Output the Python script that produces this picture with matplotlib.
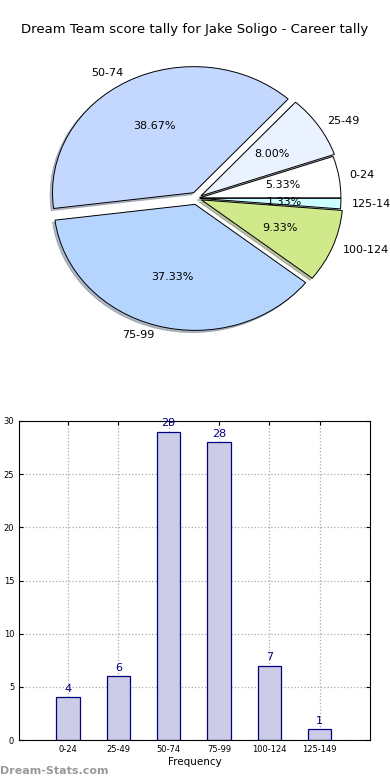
import matplotlib
matplotlib.use("Agg")
import matplotlib.pyplot as plt

# score bands and how many times each came up
bands = ["0-24", "25-49", "50-74", "75-99", "100-124", "125-149"]
counts = [4, 6, 29, 28, 7, 1]
pie_colors = ["#ffffff", "#eaf1ff", "#c4d8ff", "#b5d5ff", "#cfe98b", "#ccffff"]
explode = [0.02, 0.035, 0.05, 0.05, 0.035, 0.02]

fig = plt.figure(figsize=(3.9, 7.8), dpi=100)

fig.text(0.5, 1 - 30 / 780, "Dream Team score tally for Jake Soligo - Career tally",
         ha="center", va="center", fontsize=9.5)

#%% pie
ax1 = fig.add_axes([0.0525, 0.5438, 0.905, 0.404])
wedges, texts, autotexts = ax1.pie(counts, labels=bands, colors=pie_colors, explode=explode,
                                   autopct="%1.2f%%", startangle=0, labeldistance=1.075,
                                   shadow={"ox": -0.012, "oy": -0.012, "shade": 0.45},
                                   wedgeprops={"edgecolor": "black", "linewidth": 0.7},
                                   textprops={"fontsize": 8})
ax1.set_aspect("auto")
ax1.set_xlim(-1.25, 1.25)
ax1.set_ylim(-1.25, 1.25)

#%% bars
ax2 = fig.add_axes([19 / 390, 40 / 780, 351 / 390, 319 / 780])
x = list(range(len(bands)))
ax2.bar(x, counts, width=0.46, color="#ccccE6", edgecolor="#000080", linewidth=0.9, zorder=2)
for i, c in zip(x, counts):
    ax2.text(i, c + 0.3, str(c), ha="center", va="bottom", color="#000080", fontsize=8)
ax2.set_xlim(-0.975, 6.0)
ax2.set_ylim(0, 30)
ax2.set_xticks(x)
ax2.set_xticklabels(bands)
ax2.set_yticks([0, 5, 10, 15, 20, 25, 30])
ax2.tick_params(labelsize=6, direction="in", top=True, right=True, length=3)
ax2.grid(True, linestyle=":", color="#aaaaaa", linewidth=0.9, zorder=0)
ax2.set_xlabel("Frequency", fontsize=7.5, labelpad=2)
ax2.set_ylabel("Score Interval", fontsize=7.5, labelpad=9)

fig.text(0.0, 1 - 771 / 780, "Dream-Stats.com", ha="left", va="center",
         fontsize=8, color="#999999", fontweight="bold")

fig.savefig("out.png", dpi=100)
